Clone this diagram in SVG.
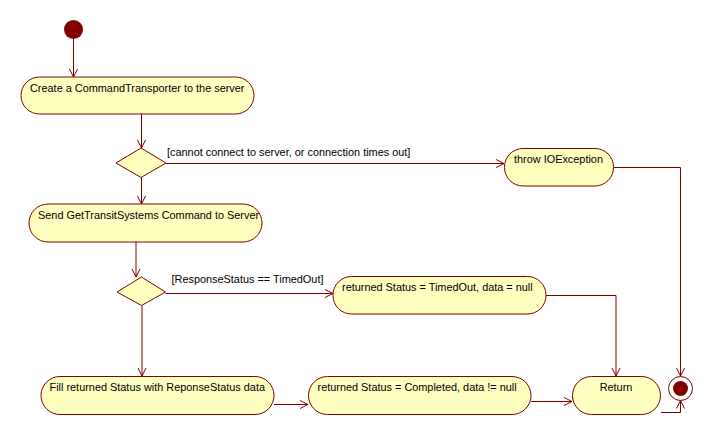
<svg xmlns="http://www.w3.org/2000/svg" width="713" height="435" viewBox="0 0 713 435">
<defs>
<marker id="arr" markerWidth="10" markerHeight="10" refX="9" refY="5" orient="auto" markerUnits="userSpaceOnUse">
<path d="M1,1 L9,5 L1,9" fill="none" stroke="#800000" stroke-width="1"/>
</marker>
<style>
.act{fill:#FFFFC0;stroke:#800000;stroke-width:1}
.dec{fill:#FFFFC0;stroke:#800000;stroke-width:1}
.t{font-family:"Liberation Sans",Arial,sans-serif;font-size:10.9px;fill:#000}
.c{fill:none;stroke:#800000;stroke-width:1;marker-end:url(#arr)}
.cn{fill:none;stroke:#800000;stroke-width:1}
</style>
</defs>
<rect width="713" height="435" fill="#fff"/>
<g id="connectors">
<path class="c" d="M73.5,39 V77"/>
<path class="c" d="M141.5,114 V148"/>
<path class="c" d="M166,163.5 H504"/>
<path class="c" d="M141.5,177.5 V204"/>
<path class="cn" d="M613,167.5 H680.5 V376" marker-end="url(#arr)"/>
<path class="c" d="M136,242 V277"/>
<path class="c" d="M165.5,293.5 H333"/>
<path class="c" d="M142,305.5 V376"/>
<path class="cn" d="M546,295.5 H616 V376" marker-end="url(#arr)"/>
<path class="c" d="M274,404.5 H308"/>
<path class="c" d="M531,401.5 H572"/>
<path class="cn" d="M661,412.5 H680.5 V400.5" marker-end="url(#arr)"/>
<text class="t" x="167" y="156">[cannot connect to server, or connection times out]</text>
<text class="t" x="171.5" y="283">[ResponseStatus == TimedOut]</text>
</g>
<g id="start"><circle cx="73.5" cy="29.5" r="9.5" fill="#800000"/></g>
<g id="n1"><rect class="act" x="21" y="77" width="233" height="37" rx="18.5"/><text class="t" x="30" y="92">Create a CommandTransporter to the server</text></g>
<g id="d1"><polygon class="dec" points="141,148 166,163 141,177.5 116,163"/></g>
<g id="throw"><rect class="act" x="504.5" y="148.5" width="109" height="37.5" rx="18.5"/><text class="t" x="514" y="163">throw IOException</text></g>
<g id="n2"><rect class="act" x="29" y="204" width="233" height="38" rx="19"/><text class="t" x="38" y="219">Send GetTransitSystems Command to Server</text></g>
<g id="d2"><polygon class="dec" points="141.5,277 165.5,292 141.5,305.5 117,292"/></g>
<g id="timedout"><rect class="act" x="333" y="276.5" width="213" height="37.5" rx="18.5"/><text class="t" x="342" y="291">returned Status = TimedOut, data = null</text></g>
<g id="fill"><rect class="act" x="41" y="376.5" width="233" height="38" rx="19"/><text class="t" x="49.5" y="391">Fill returned Status with ReponseStatus data</text></g>
<g id="completed"><rect class="act" x="308.5" y="376.5" width="222.5" height="38" rx="19"/><text class="t" x="317.5" y="391">returned Status = Completed, data != null</text></g>
<g id="return"><rect class="act" x="572.5" y="376.5" width="88" height="38" rx="19"/><text class="t" x="616" y="391" text-anchor="middle">Return</text></g>
<g id="end"><circle cx="680.5" cy="388.5" r="12" fill="#fff" stroke="#800000" stroke-width="1"/><circle cx="680.5" cy="388.5" r="7.5" fill="#800000"/></g>
</svg>
